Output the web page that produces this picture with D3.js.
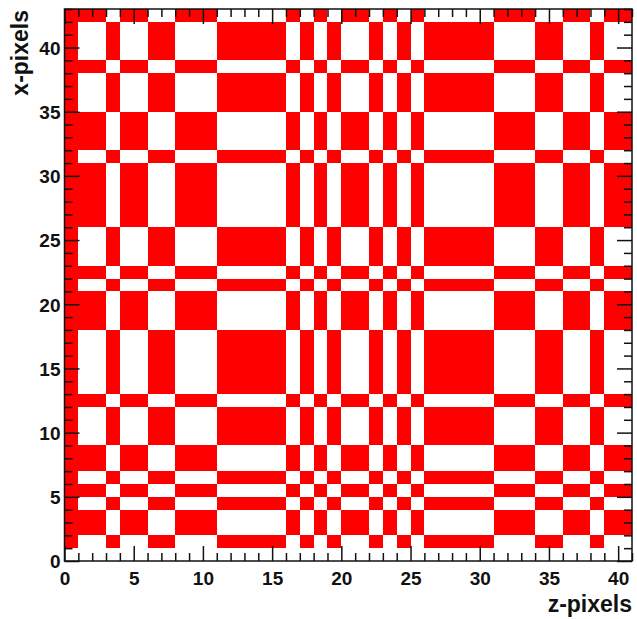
<!DOCTYPE html>
<html><head><meta charset="utf-8">
<script src="https://cdn.jsdelivr.net/npm/d3@7"></script>
<style>body{margin:0;background:#fff}svg{display:block}</style>
</head><body>
<script>
// Column states along z (0 = always-filled column, +1 / -1 code)
const zCodes = [0, 1,1,-1,1,1,-1,-1,1,1,1, -1,-1,-1,-1,-1,1,-1,1,-1,1, 1,-1,1,-1,1,-1,-1,-1,-1,-1, 1,1,1,-1,-1,1,1,-1,1,1];
// Row states along x (0 = empty row)
const xCodes = [0, 1,-1,-1,1,-1,1,-1,-1,1,1, 1,-1,1,1,1,1,1,-1,-1,-1, 1,-1,1,1,1,-1,-1,-1,-1,-1, 1,-1,-1,-1,1,1,1,-1,1,1, 1,-1];
const zTicks = [0,5,10,15,20,25,30,35,40];
const xTicks = [0,5,10,15,20,25,30,35,40];
const zLabel = "z-pixels", xLabel = "x-pixels";

const W = 637, H = 619;
const L = 64.5, R = 632, T = 9, B = 561;
const svg = d3.select("body").append("svg").attr("width", W).attr("height", H);
const xs = d3.scaleLinear().domain([0, zCodes.length]).range([L, R]);
const ys = d3.scaleLinear().domain([0, xCodes.length]).range([B, T]);

const cells = [];
xCodes.forEach((xc, xi) => zCodes.forEach((zc, zi) => {
  const on = xc !== 0 && (zc === 0 || zc * xc === -1);
  if (on) cells.push({z: zi, x: xi});
}));
svg.append("g").attr("shape-rendering", "crispEdges").selectAll("rect").data(cells).join("rect")
  .attr("x", d => xs(d.z)).attr("y", d => ys(d.x + 1))
  .attr("width", d => xs(d.z + 1) - xs(d.z)).attr("height", d => ys(d.x) - ys(d.x + 1))
  .attr("fill", "#ff0000");

const font = "'Liberation Sans', Arial, Helvetica, sans-serif";
const axisCol = "#111";
function styleAxis(g) {
  g.select(".domain").remove();
  g.selectAll(".tick line").attr("stroke", axisCol).attr("stroke-width", 1.5);
  g.selectAll(".tick text").attr("font-family", font).attr("font-weight", "bold").attr("font-size", 19).attr("fill", "#111");
}
const zMinor = d3.range(0, 42), xMinor = d3.range(0, 44);
// minor ticks
[[d3.axisBottom(xs), B], [d3.axisTop(xs), T]].forEach(([ax, y]) => {
  const g = svg.append("g").attr("transform", `translate(0,${y})`)
    .call(ax.tickValues(zMinor.filter(v => v % 5 !== 0)).tickSize(-8).tickFormat(""));
  styleAxis(g);
});
[[d3.axisLeft(ys), L], [d3.axisRight(ys), R]].forEach(([ax, x]) => {
  const g = svg.append("g").attr("transform", `translate(${x},0)`)
    .call(ax.tickValues(xMinor.filter(v => v % 5 !== 0)).tickSize(-8).tickFormat(""));
  styleAxis(g);
});
// major ticks
const gb = svg.append("g").attr("transform", `translate(0,${B})`)
  .call(d3.axisBottom(xs).tickValues(zTicks).tickSize(-15).tickFormat(d3.format("d")));
styleAxis(gb);
gb.selectAll(".tick text").attr("y", 11).attr("dy", "0.71em");
const gt = svg.append("g").attr("transform", `translate(0,${T})`)
  .call(d3.axisTop(xs).tickValues(zTicks).tickSize(-15).tickFormat(""));
styleAxis(gt);
const gl = svg.append("g").attr("transform", `translate(${L},0)`)
  .call(d3.axisLeft(ys).tickValues(xTicks).tickSize(-15).tickFormat(d3.format("d")));
styleAxis(gl);
gl.selectAll(".tick text").attr("x", -4).attr("dy", "0.36em");
const gr = svg.append("g").attr("transform", `translate(${R},0)`)
  .call(d3.axisRight(ys).tickValues(xTicks).tickSize(-15).tickFormat(""));
styleAxis(gr);

// frame
svg.append("rect").attr("x", L).attr("y", T).attr("width", R - L).attr("height", B - T)
  .attr("fill", "none").attr("stroke", axisCol).attr("stroke-width", 1.5);

svg.append("text").attr("x", R).attr("y", 612).attr("text-anchor", "end")
  .attr("font-family", font).attr("font-weight", "bold").attr("font-size", 23).attr("fill", "#111").text(zLabel);
svg.append("text").attr("transform", `translate(28,${T + 1}) rotate(-90)`).attr("text-anchor", "end")
  .attr("font-family", font).attr("font-weight", "bold").attr("font-size", 23).attr("fill", "#111").text(xLabel);
</script>
</body></html>
